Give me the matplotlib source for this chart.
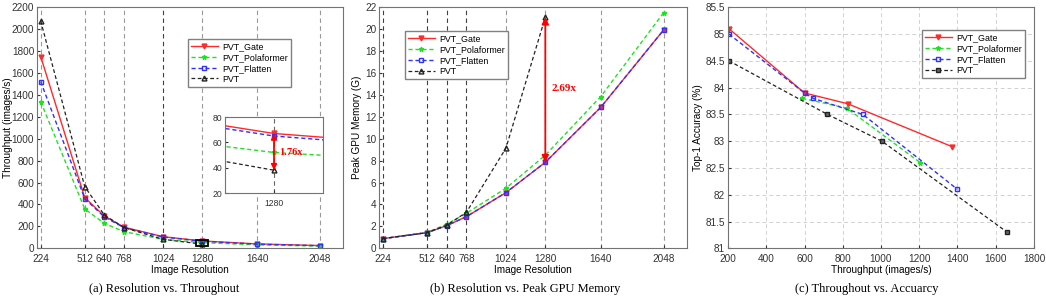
import numpy as np
import matplotlib as mpl
import matplotlib.pyplot as plt
from matplotlib.patches import Rectangle
from matplotlib.ticker import FuncFormatter

# DATA
resolution = [224, 512, 640, 768, 1024, 1280, 1640, 2048]
resolution_pvt = [224, 512, 640, 768, 1024, 1280]

# (a) throughput (images/s) vs resolution
thr_gate = [1750, 462, 295, 193, 106, 67, 40, 25]
thr_pola = [1339, 359, 228, 152, 82, 52, 32, 20]
thr_flatten = [1522, 453, 286, 189, 103, 65, 38, 24]
thr_pvt = [2075, 563, 304, 189, 82, 38]

# (b) peak GPU memory (G) vs resolution
mem_gate = [0.88, 1.43, 2.07, 2.89, 5.08, 7.85, 12.87, 19.93]
mem_pola = [0.88, 1.45, 2.2, 3.2, 5.48, 8.5, 13.85, 21.5]
mem_flatten = [0.88, 1.43, 2.07, 2.89, 5.08, 7.85, 12.87, 19.93]
mem_pvt = [0.88, 1.43, 2.1, 3.29, 9.13, 21.1]

# (c) throughput vs top-1 accuracy
acc_gate_x = [205, 600, 825, 1370]
acc_gate_y = [85.1, 83.9, 83.7, 82.9]
acc_pola_x = [588, 820, 1205]
acc_pola_y = [83.8, 83.62, 82.6]
acc_flatten_x = [205, 600, 645, 905, 1400]
acc_flatten_y = [85.0, 83.9, 83.8, 83.5, 82.1]
acc_pvt_x = [205, 720, 1005, 1660]
acc_pvt_y = [84.5, 83.5, 83.0, 81.3]

labels = ['PVT_Gate', 'PVT_Polaformer', 'PVT_Flatten', 'PVT']
ratio_a = '1.76x'
ratio_b = '2.69x'

# STYLES
RED = '#ff2a2a'
GREEN = '#22e022'
BLUE = '#3030ff'
BLACK = '#222222'
st_gate = dict(color=RED, ls='-', lw=1.0, marker='v', ms=3.5, mfc=RED, mec=RED)
st_pola = dict(color=GREEN, ls=(0, (3, 2)), lw=1.0, marker='*', ms=3.5, mfc=GREEN, mec=GREEN)
st_flat = dict(color=BLUE, ls=(0, (3, 2)), lw=1.0, marker='s', ms=3, mfc='none', mec=BLUE)
st_pvt = dict(color=BLACK, ls=(0, (3, 2)), lw=0.9, marker='^', ms=3.5, mfc='none', mec=BLACK)

mpl.rcParams.update({'font.family': ['Liberation Sans', 'DejaVu Sans'], 'font.size': 7.2,
                     'axes.edgecolor': '0.45', 'xtick.color': '0.2', 'ytick.color': '0.2',
                     'xtick.direction': 'in', 'ytick.direction': 'in',
                     'xtick.major.size': 2.5, 'ytick.major.size': 2.5,
                     'xtick.major.pad': 4, 'ytick.major.pad': 2})
SERIF = ['Liberation Serif', 'DejaVu Serif']

fig = plt.figure(figsize=(10.46, 3.04), dpi=100)
g = FuncFormatter(lambda v, p: '%g' % v)


def vgrid(ax, dark):
    for r in resolution:
        c = '0.25' if r in dark else '0.6'
        ax.axvline(r, color=c, ls=(0, (4, 3)), lw=0.8, zorder=0)


def legend(ax, anchor):
    ax.legend(loc='upper left', bbox_to_anchor=anchor, fontsize=6.4, frameon=True, fancybox=False,
              edgecolor='0.5', framealpha=1, handlelength=3.0, handletextpad=0.5,
              borderpad=0.35, labelspacing=0.2, borderaxespad=0)


# (a) RESOLUTION VS THROUGHPUT
ax1 = fig.add_axes([0.0354, 0.1832, 0.2925, 0.7928])
vgrid(ax1, [1024])
ax1.plot(resolution, thr_gate, label=labels[0], **st_gate)
ax1.plot(resolution, thr_pola, label=labels[1], **st_pola)
ax1.plot(resolution, thr_flatten, label=labels[2], **st_flat)
ax1.plot(resolution_pvt, thr_pvt, label=labels[3], **st_pvt)
ax1.add_patch(Rectangle((1240, 20), 80, 60, fill=False, ec='black', lw=1.3, zorder=5))
ax1.set_xlim(200, 2200)
ax1.set_ylim(0, 2200)
ax1.set_xticks(resolution)
ax1.set_yticks(np.arange(0, 2201, 200))
ax1.set_xlabel('Image Resolution', fontsize=7.2, labelpad=1)
ax1.set_ylabel('Throughput (images/s)', fontsize=7.2)
ax1.yaxis.set_label_coords(-0.08, 0.5)
legend(ax1, (0.493, 0.868))

# INSET
axi = fig.add_axes([0.2151, 0.3651, 0.0937, 0.25])
axi.axvline(1280, color='0.4', ls=(0, (4, 3)), lw=0.8, zorder=0)
axi.plot(resolution, thr_gate, **st_gate)
axi.plot(resolution, thr_pola, **st_pola)
axi.plot(resolution, thr_flatten, **st_flat)
axi.plot(resolution_pvt, thr_pvt, **st_pvt)
axi.set_xlim(1240, 1320)
axi.set_ylim(20, 80)
axi.set_xticks([1280])
axi.set_yticks([20, 40, 60, 80])
axi.tick_params(labelsize=6.2)
axi.annotate('', xy=(1280, thr_pvt[5]), xytext=(1280, thr_gate[5]),
             arrowprops=dict(arrowstyle='<|-|>', color='red', lw=1.3, mutation_scale=8, shrinkA=0, shrinkB=0))
axi.text(1284, 52, ratio_a, color='red', fontweight='bold',
         fontsize=7.5, family=SERIF, va='center', ha='left')

# (b) RESOLUTION VS PEAK GPU MEMORY
ax2 = fig.add_axes([0.3623, 0.1832, 0.2945, 0.7928])
vgrid(ax2, [224, 512, 640, 768])
ax2.plot(resolution, mem_gate, label=labels[0], **st_gate)
ax2.plot(resolution, mem_pola, label=labels[1], **st_pola)
ax2.plot(resolution, mem_flatten, label=labels[2], **st_flat)
ax2.plot(resolution_pvt, mem_pvt, label=labels[3], **st_pvt)
ax2.annotate('', xy=(1280, mem_pvt[5]), xytext=(1280, mem_gate[5]),
             arrowprops=dict(arrowstyle='<|-|>', color='red', lw=1.3, mutation_scale=10, shrinkA=0, shrinkB=0))
ax2.text(1320, 14.6, ratio_b, color='red', fontweight='bold',
         fontsize=8, family=SERIF, va='center', ha='left')
ax2.set_xlim(200, 2200)
ax2.set_ylim(0, 22)
ax2.set_xticks(resolution)
ax2.set_yticks(np.arange(0, 23, 2))
ax2.set_xlabel('Image Resolution', fontsize=7.2, labelpad=1)
ax2.set_ylabel('Peak GPU Memory (G)', fontsize=7.2, labelpad=2)
legend(ax2, (0.084, 0.90))

# (c) THROUGHPUT VS ACCURACY
ax3 = fig.add_axes([0.696, 0.1832, 0.2925, 0.7928])
ax3.grid(True, color='0.82', ls=(0, (4, 3)), lw=0.7)
ax3.set_axisbelow(True)
ax3.plot(acc_gate_x, acc_gate_y, label=labels[0], **st_gate)
ax3.plot(acc_pola_x, acc_pola_y, label=labels[1], **st_pola)
ax3.plot(acc_flatten_x, acc_flatten_y, label=labels[2], **st_flat)
st_pvt_c = dict(st_pvt, marker='s', ms=2.5, mfc='0.4')
ax3.plot(acc_pvt_x, acc_pvt_y, label=labels[3], **st_pvt_c)
ax3.set_xlim(200, 1800)
ax3.set_ylim(81, 85.5)
ax3.set_xticks(np.arange(200, 1801, 200))
ax3.set_yticks(np.arange(81, 85.51, 0.5))
ax3.yaxis.set_major_formatter(g)
ax3.set_xlabel('Throughput (images/s)', fontsize=7.2, labelpad=1)
ax3.set_ylabel('Top-1 Accuracy (%)', fontsize=7.2, labelpad=2)
legend(ax3, (0.634, 0.905))

# CAPTIONS
fig.text(164 / 1046, 0.049, '(a) Resolution vs. Throughout', family=SERIF, fontsize=9, ha='center', va='center')
fig.text(525 / 1046, 0.049, '(b) Resolution vs. Peak GPU Memory', family=SERIF, fontsize=9, ha='center', va='center')
fig.text(867 / 1046, 0.049, '(c) Throughout vs. Accuarcy', family=SERIF, fontsize=9, ha='center', va='center')

fig.savefig('out.png', dpi=100)
